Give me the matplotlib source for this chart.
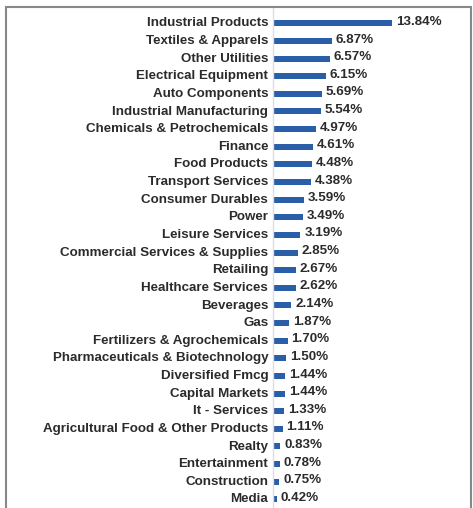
import matplotlib
matplotlib.use("Agg")
import matplotlib.pyplot as plt
import matplotlib.patches as patches

# sector weights (%)
sectors = [
    "Industrial Products", "Textiles & Apparels", "Other Utilities",
    "Electrical Equipment", "Auto Components", "Industrial Manufacturing",
    "Chemicals & Petrochemicals", "Finance", "Food Products",
    "Transport Services", "Consumer Durables", "Power", "Leisure Services",
    "Commercial Services & Supplies", "Retailing", "Healthcare Services",
    "Beverages", "Gas", "Fertilizers & Agrochemicals",
    "Pharmaceuticals & Biotechnology", "Diversified Fmcg", "Capital Markets",
    "It - Services", "Agricultural Food & Other Products", "Realty",
    "Entertainment", "Construction", "Media",
]
weights = [
    13.84, 6.87, 6.57, 6.15, 5.69, 5.54, 4.97, 4.61, 4.48, 4.38, 3.59, 3.49,
    3.19, 2.85, 2.67, 2.62, 2.14, 1.87, 1.70, 1.50, 1.44, 1.44, 1.33, 1.11,
    0.83, 0.78, 0.75, 0.42,
]

W, H = 473, 508
fig = plt.figure(figsize=(W / 100, H / 100), dpi=100)
ax = fig.add_axes([273 / W, 0, (470 - 273) / W, (H - 8) / H])

FS = 9.6
TXT = "#2b2b2b"

ypos = list(range(len(sectors)))
ax.barh([y + 0.08 for y in ypos], weights, height=0.34, color="#2a5ea8")
ax.set_xlim(0, 22.9)
ax.set_ylim(27.57, -0.79)

ax.set_yticks(ypos)
ax.set_yticklabels(sectors, fontsize=FS, fontweight="bold", color=TXT,
                   family="Liberation Sans")
ax.tick_params(axis="y", length=0, pad=3.5)
ax.set_xticks([])

for s in ["top", "right", "bottom"]:
    ax.spines[s].set_visible(False)
ax.spines["left"].set_color("#dddddd")
ax.spines["left"].set_linewidth(1.0)

for y, v in zip(ypos, weights):
    ax.text(v + 0.45, y, f"{v:.2f}%", va="center", ha="left", fontsize=FS,
            fontweight="bold", color=TXT, family="Liberation Sans")

# outer frame
fig.patches.append(patches.Rectangle((6 / W, -0.05), (471 - 6) / W, 1.05 - 7 / H,
                                     transform=fig.transFigure, fill=False,
                                     edgecolor="#888888", linewidth=1.5))

fig.savefig("out.png", dpi=100)
